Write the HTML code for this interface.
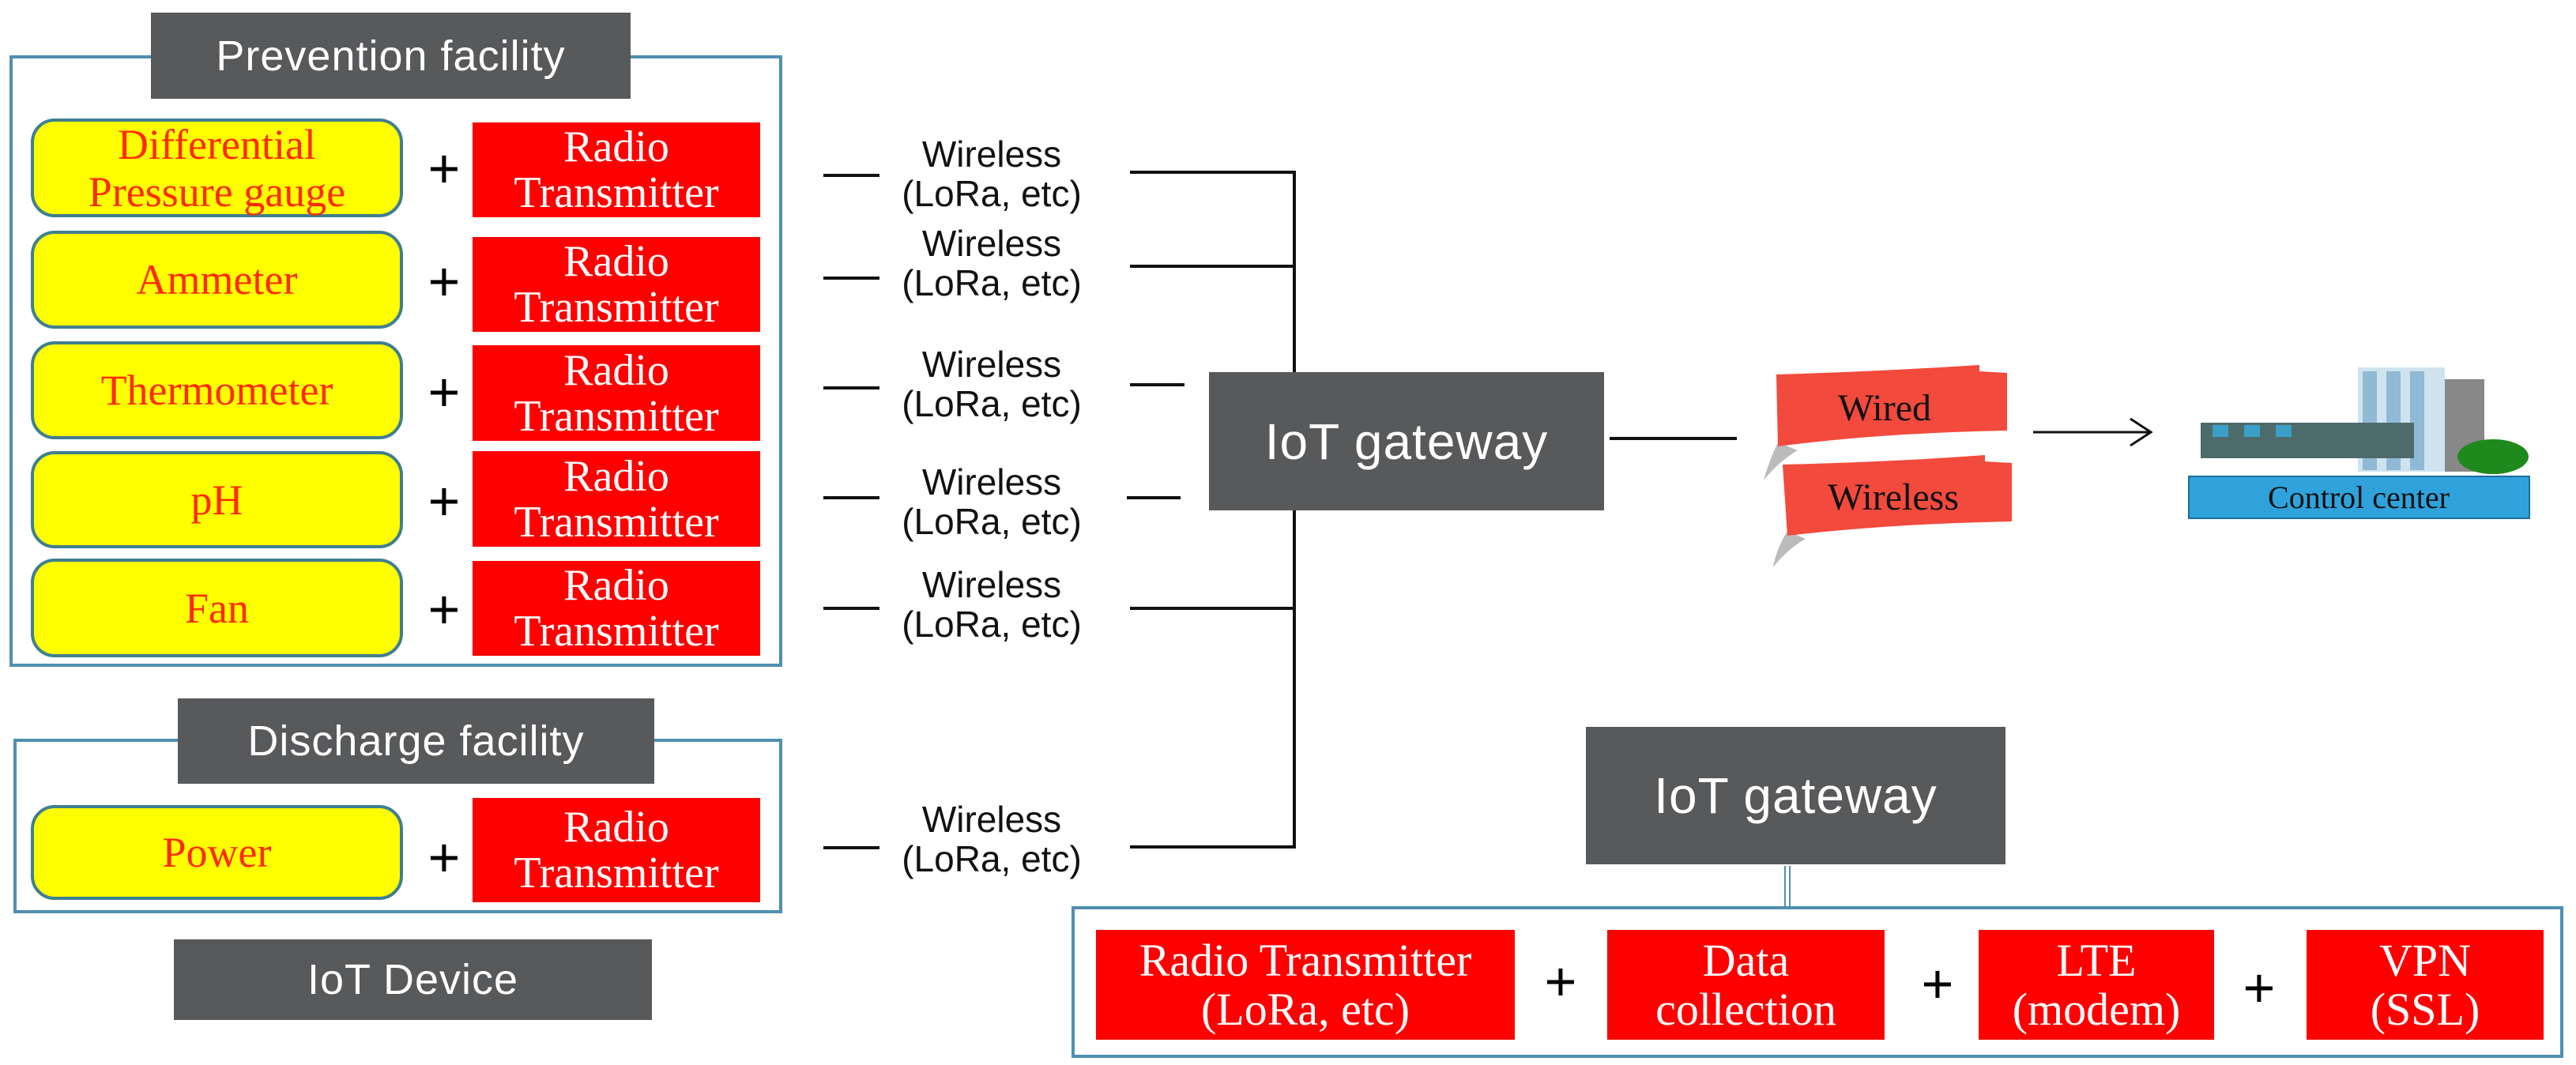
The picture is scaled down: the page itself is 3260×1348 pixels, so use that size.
<!DOCTYPE html>
<html><head><meta charset="utf-8">
<style>
body{margin:0;background:#fff;}
#c{position:relative;width:3260px;height:1348px;overflow:hidden;background:#fff;font-family:"Liberation Sans",sans-serif;}
.a{position:absolute;box-sizing:border-box;display:flex;align-items:center;justify-content:center;text-align:center;}
.dk{background:#58595b;color:#fff;font-size:54px;letter-spacing:1px;}
.ye{background:#ffff00;border:4px solid #3f7f8f;border-radius:30px;color:#ff2a00;font-family:"Liberation Serif",serif;font-size:54px;line-height:60px;}
.rd{background:#ff0000;color:#fff;font-family:"Liberation Serif",serif;font-size:56px;line-height:58px;}
.pl{font-size:70px;color:#000;font-family:"Liberation Sans",sans-serif;width:50px;height:60px;}
.w{font-size:46px;color:#111;line-height:50px;width:300px;}
.box{position:absolute;border:4px solid #4f8fb0;box-sizing:border-box;}
</style></head><body><div id="c">
<div class="box" style="left:12px;top:70px;width:978px;height:774px;"></div>
<div class="a dk" style="left:191px;top:16px;width:607px;height:109px;">Prevention facility</div>

<div class="a ye" style="left:39px;top:150px;width:471px;height:125px;">Differential<br>Pressure gauge</div>
<div class="a ye" style="left:39px;top:292px;width:471px;height:124px;">Ammeter</div>
<div class="a ye" style="left:39px;top:432px;width:471px;height:124px;">Thermometer</div>
<div class="a ye" style="left:39px;top:571px;width:471px;height:123px;">pH</div>
<div class="a ye" style="left:39px;top:707px;width:471px;height:125px;">Fan</div>

<div class="a pl" style="left:537px;top:183px;">+</div>
<div class="a pl" style="left:537px;top:326px;">+</div>
<div class="a pl" style="left:537px;top:466px;">+</div>
<div class="a pl" style="left:537px;top:604px;">+</div>
<div class="a pl" style="left:537px;top:741px;">+</div>

<div class="a rd" style="left:598px;top:155px;width:364px;height:120px;">Radio<br>Transmitter</div>
<div class="a rd" style="left:598px;top:300px;width:364px;height:120px;">Radio<br>Transmitter</div>
<div class="a rd" style="left:598px;top:437px;width:364px;height:121px;">Radio<br>Transmitter</div>
<div class="a rd" style="left:598px;top:571px;width:364px;height:121px;">Radio<br>Transmitter</div>
<div class="a rd" style="left:598px;top:710px;width:364px;height:120px;">Radio<br>Transmitter</div>

<div class="box" style="left:17px;top:935px;width:973px;height:221px;"></div>
<div class="a dk" style="left:225px;top:884px;width:603px;height:108px;">Discharge facility</div>
<div class="a ye" style="left:39px;top:1019px;width:471px;height:120px;">Power</div>
<div class="a pl" style="left:537px;top:1055px;">+</div>
<div class="a rd" style="left:598px;top:1010px;width:364px;height:132px;">Radio<br>Transmitter</div>
<div class="a dk" style="left:220px;top:1189px;width:605px;height:102px;">IoT Device</div>

<svg style="position:absolute;left:0;top:0" width="3260" height="1348">
<g stroke="#111" stroke-width="4" fill="none">
<line x1="1042" y1="222" x2="1113" y2="222"/><line x1="1042" y1="352" x2="1113" y2="352"/>
<line x1="1042" y1="491" x2="1113" y2="491"/><line x1="1042" y1="630" x2="1113" y2="630"/>
<line x1="1042" y1="770" x2="1113" y2="770"/><line x1="1042" y1="1073" x2="1113" y2="1073"/>
<line x1="1430" y1="218" x2="1640" y2="218"/><line x1="1430" y1="337" x2="1640" y2="337"/>
<line x1="1430" y1="487" x2="1499" y2="487"/><line x1="1426" y1="630" x2="1494" y2="630"/>
<line x1="1430" y1="770" x2="1640" y2="770"/><line x1="1430" y1="1072" x2="1640" y2="1072"/>
<line x1="1638" y1="216" x2="1638" y2="1074"/>
<line x1="2037" y1="555" x2="2198" y2="555"/>
<line x1="2573" y1="547" x2="2720" y2="547" stroke-width="3"/>
<polyline points="2696,530 2722,547 2696,564" stroke-width="3"/>
</g>
<g stroke="#4f8fb0" stroke-width="2"><line x1="2259" y1="1096" x2="2259" y2="1148"/><line x1="2265" y1="1096" x2="2265" y2="1148"/></g>
<!-- ribbons -->
<path d="M2250,560 Q2238,585 2232,608 Q2250,585 2275,570 Z" fill="#bbb"/>
<path d="M2248,474 Q2380,470 2505,462 L2505,470 L2540,472 L2540,545 Q2380,548 2250,565 Z" fill="#f24a3c"/>
<path d="M2262,672 Q2248,695 2244,718 Q2262,695 2285,682 Z" fill="#bbb"/>
<path d="M2256,588 Q2390,585 2512,576 L2512,584 L2546,586 L2546,660 Q2390,663 2262,678 Z" fill="#f24a3c"/>
<text x="2385" y="532" font-family="Liberation Serif,serif" font-size="48" text-anchor="middle" fill="#111">Wired</text>
<text x="2396" y="645" font-family="Liberation Serif,serif" font-size="48" text-anchor="middle" fill="#111">Wireless</text>
<!-- control center -->
<rect x="2984" y="465" width="110" height="132" fill="#cfe3ee"/>
<rect x="2990" y="470" width="18" height="125" fill="#8fb9d4"/><rect x="3020" y="470" width="18" height="125" fill="#8fb9d4"/><rect x="3050" y="470" width="18" height="125" fill="#8fb9d4"/>
<rect x="3094" y="480" width="50" height="117" fill="#888"/>
<rect x="2785" y="535" width="270" height="45" fill="#4e6b6c"/>
<rect x="2800" y="538" width="20" height="15" fill="#3aa0c8"/><rect x="2840" y="538" width="20" height="15" fill="#3aa0c8"/><rect x="2880" y="538" width="20" height="15" fill="#3aa0c8"/>
<ellipse cx="3155" cy="578" rx="45" ry="22" fill="#1e8a1e"/>
<rect x="2770" y="603" width="431" height="53" fill="#2fa2dc" stroke="#1a6fa0" stroke-width="2"/>
<text x="2985" y="643" font-family="Liberation Serif,serif" font-size="40" text-anchor="middle" fill="#111">Control center</text>
</svg>

<div class="a w" style="left:1105px;top:170px;">Wireless<br>(LoRa, etc)</div>
<div class="a w" style="left:1105px;top:283px;">Wireless<br>(LoRa, etc)</div>
<div class="a w" style="left:1105px;top:436px;">Wireless<br>(LoRa, etc)</div>
<div class="a w" style="left:1105px;top:585px;">Wireless<br>(LoRa, etc)</div>
<div class="a w" style="left:1105px;top:715px;">Wireless<br>(LoRa, etc)</div>
<div class="a w" style="left:1105px;top:1012px;">Wireless<br>(LoRa, etc)</div>

<div class="a dk" style="left:1530px;top:471px;width:500px;height:175px;font-size:64px;">IoT gateway</div>
<div class="a dk" style="left:2007px;top:920px;width:531px;height:174px;font-size:64px;">IoT gateway</div>

<div class="box" style="left:1356px;top:1147px;width:1888px;height:192px;"></div>
<div class="a rd" style="left:1387px;top:1177px;width:530px;height:139px;font-size:58px;line-height:62px;">Radio Transmitter<br>(LoRa, etc)</div>
<div class="a rd" style="left:2034px;top:1177px;width:351px;height:139px;font-size:58px;line-height:62px;">Data<br>collection</div>
<div class="a rd" style="left:2504px;top:1177px;width:298px;height:139px;font-size:58px;line-height:62px;">LTE<br>(modem)</div>
<div class="a rd" style="left:2919px;top:1177px;width:300px;height:139px;font-size:58px;line-height:62px;">VPN<br>(SSL)</div>
<div class="a pl" style="left:1950px;top:1212px;">+</div>
<div class="a pl" style="left:2427px;top:1215px;">+</div>
<div class="a pl" style="left:2834px;top:1220px;">+</div>
</div></body></html>
